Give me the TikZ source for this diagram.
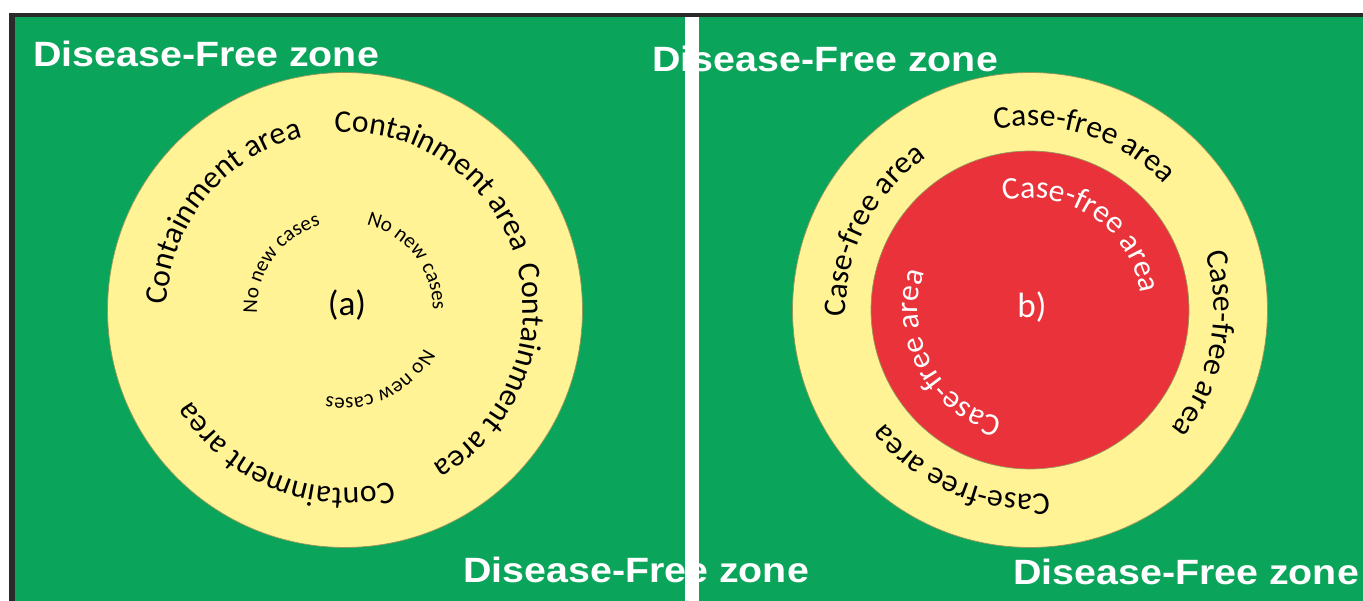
\documentclass[tikz,border=0pt]{standalone}
\usepackage{fontspec}
\setmainfont{Carlito}
\newfontfamily\zonefont{Liberation Sans}[FakeStretch=1.12]
\usetikzlibrary{decorations.text}

\definecolor{zonegreen}{RGB}{10,165,90}
\definecolor{ringyellow}{RGB}{255,243,150}
\definecolor{corered}{RGB}{234,50,58}
\definecolor{framegray}{RGB}{42,42,42}
\definecolor{ringedge}{RGB}{150,150,90}

\begin{document}
\begin{tikzpicture}[x=0.02cm,
                    y=0.02cm,
                    zone label/.style={text=white,font=\zonefont\bfseries\fontsize{20pt}{23pt}\selectfont,inner sep=0pt,anchor=base west},
                    ring/.style={circle,draw=ringedge,line width=0.4pt,inner sep=0pt},
                    case label/.style={font=\fontsize{20pt}{24pt}\selectfont,inner sep=0pt},
                    big ring text/.style={decorate,decoration={text along path,text align=center,text={|\fontsize{18pt}{21pt}\selectfont|#1}}},
                    small ring text/.style={decorate,decoration={text along path,text align=center,text={|\fontsize{12pt}{14pt}\selectfont|#1}}},
                    white ring text/.style={decorate,decoration={text along path,text align=center,text color=white,text={|\fontsize{18pt}{21pt}\selectfont|#1}}}]

  \useasboundingbox (0,0) rectangle (1363,601);
  \fill[white] (0,0) rectangle (1363,601);
  \fill[framegray] (9,0) rectangle (1363,588);
  \fill[zonegreen] (15,0) rectangle (1363,584);

  % (a) containment
  \node[ring,fill=ringyellow,minimum size=9.5cm] (contain) at (345,291) {};
  \node[case label] (a) at (347,296) {(a)};

  \path[big ring text=Containment area] (contain.center) ++(226:178) arc[start angle=226,delta angle=-170,radius=178];
  \path[big ring text=Containment area] (contain.center) ++(141:178) arc[start angle=141,delta angle=-170,radius=178];
  \path[big ring text=Containment area] (contain.center) ++(62:178) arc[start angle=62,delta angle=-170,radius=178];
  \path[big ring text=Containment area] (contain.center) ++(-27:178) arc[start angle=-27,delta angle=-170,radius=178];

  \path[small ring text=No new cases] (contain.center) ++(229:88) arc[start angle=229,delta angle=-170,radius=88];
  \path[small ring text=No new cases] (contain.center) ++(123:88) arc[start angle=123,delta angle=-170,radius=88];
  \path[small ring text=No new cases] (contain.center) ++(21:88) arc[start angle=21,delta angle=-170,radius=88];

  % b) case-free
  \node[ring,fill=ringyellow,minimum size=9.5cm] (outer) at (1030,291) {};
  \node[ring,fill=corered,minimum size=6.36cm] (core) at (1030,291) {};
  \node[case label,text=white] (b) at (1032,294) {b)};

  \path[big ring text=Case-free area] (outer.center) ++(238:184) arc[start angle=238,delta angle=-170,radius=184];
  \path[big ring text=Case-free area] (outer.center) ++(157:184) arc[start angle=157,delta angle=-170,radius=184];
  \path[big ring text=Case-free area] (outer.center) ++(74:184) arc[start angle=74,delta angle=-170,radius=184];
  \path[big ring text=Case-free area] (outer.center) ++(-28:184) arc[start angle=-28,delta angle=-170,radius=184];

  \path[white ring text=Case-free area] (core.center) ++(141:112) arc[start angle=141,delta angle=-170,radius=112];
  \path[white ring text=Case-free area] (core.center) ++(-67:112) arc[start angle=-67,delta angle=-170,radius=112];

  % zone titles
  \node[zone label] (tl) at (33,534) {Disease-Free zone};
  \node[zone label] (tm) at (652,529) {Disease-Free zone};
  \node[zone label] (bm) at (463,18) {Disease-Free zone};
  \node[zone label] (br) at (1013,16) {Disease-Free zone};

  % split between panels
  \fill[white] (685,0) rectangle (699,584);
\end{tikzpicture}
\end{document}
